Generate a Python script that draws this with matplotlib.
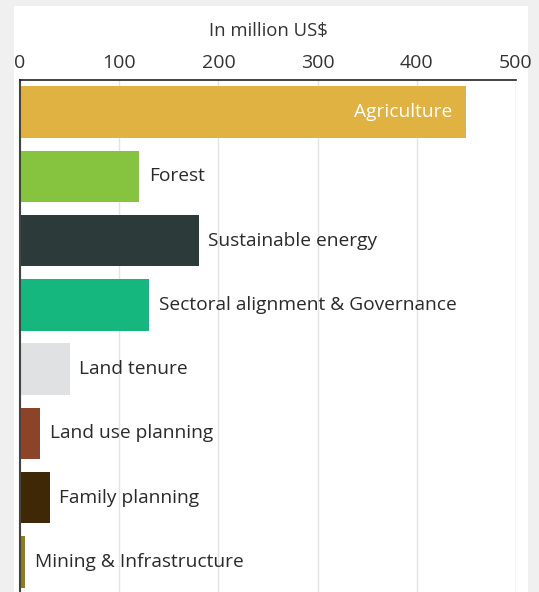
import matplotlib
matplotlib.use("Agg")
import matplotlib.pyplot as plt
from matplotlib.patches import Rectangle

categories = ["Agriculture", "Forest", "Sustainable energy", "Sectoral alignment & Governance",
              "Land tenure", "Land use planning", "Family planning", "Mining & Infrastructure"]
values = [450, 120, 180, 130, 50, 20, 30, 5]
colors = ["#DFB242", "#86C440", "#2D3A3A", "#16B67F", "#E0E1E3", "#8B4427", "#3F2806", "#8E7C22"]
xticks = [0, 100, 200, 300, 400, 500]
xlabel = "In million US$"

plt.rcParams['font.family'] = ['Open Sans', 'DejaVu Sans']

W, H = 539, 592
fig = plt.figure(figsize=(W / 100, H / 100), dpi=100)
fig.patch.set_facecolor("#F0F0F0")
fig.add_artist(Rectangle((14 / W, 0), (528 - 14) / W, 1 - 6 / H, transform=fig.transFigure,
                         facecolor="white", edgecolor="none", zorder=0))

ax = fig.add_axes([20 / W, 1 - 594 / H, (516 - 20) / W, (594 - 80) / H])
ax.set_facecolor("white")
ypos = list(range(len(categories)))
ax.barh(ypos, values, height=0.8, color=colors, zorder=2)
ax.set_ylim(len(categories) - 0.5, -0.5)
ax.set_xlim(0, 500)
ax.xaxis.tick_top()
ax.xaxis.set_label_position("top")
ax.set_xticks(xticks)
ax.set_xticklabels([str(t) for t in xticks], fontsize=14, color="#333333")
ax.tick_params(axis="x", length=0, pad=6)
ax.set_xlabel(xlabel, fontsize=13.3, color="#333333", labelpad=13)
ax.set_yticks([])
ax.grid(axis="x", color="#E3E3E3", linewidth=1, zorder=1)
for s in ["right", "bottom"]:
    ax.spines[s].set_visible(False)
ax.spines["top"].set_color("#222222")
ax.spines["top"].set_linewidth(1.2)
ax.spines["left"].set_color("#444444")
ax.spines["left"].set_linewidth(1.5)
ax.axvline(500, color="#E3E3E3", linewidth=1, zorder=1)

for i, (c, v) in enumerate(zip(categories, values)):
    if i == 0:
        ax.annotate(c, (v, i), xytext=(-10, 0), textcoords="offset points",
                    ha="right", va="center", color="white", fontsize=13.8, zorder=3)
    else:
        ax.annotate(c, (v, i), xytext=(7, 0), textcoords="offset points",
                    ha="left", va="center", color="#2A2A2A", fontsize=13.8, zorder=3)

fig.savefig("out.png", dpi=100, facecolor=fig.get_facecolor())
